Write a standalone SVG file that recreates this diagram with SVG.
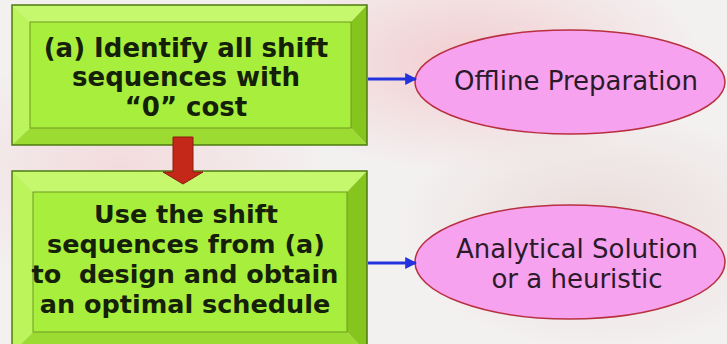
<svg xmlns="http://www.w3.org/2000/svg" width="727" height="344" viewBox="0 0 727 344">
<defs>
<radialGradient id="bg1" cx="0.5" cy="0.5" r="0.5"><stop offset="0" stop-color="#f2c4c8" stop-opacity="0.8"/><stop offset="1" stop-color="#f2c4c8" stop-opacity="0"/></radialGradient>
<radialGradient id="bg2" cx="0.5" cy="0.5" r="0.5"><stop offset="0" stop-color="#e8d8d6" stop-opacity="0.9"/><stop offset="1" stop-color="#e8d8d6" stop-opacity="0"/></radialGradient>
<marker id="blueHead" viewBox="0 0 10 10" refX="9" refY="5" markerWidth="4" markerHeight="4" orient="auto"><path d="M0,0 L10,5 L0,10 z" fill="#2233dd"/></marker>
<style>
.face{fill:#a8ee3c}
.btop{fill:#c6f86e}
.bleft{fill:#bcf45c}
.bright{fill:#86c41e}
.bbot{fill:#9cdc32}
.frame{fill:none;stroke:#4e7a10;stroke-width:1.5}
.inner{fill:none;stroke:#6e9a1e;stroke-width:1}
.btxt{font-family:"DejaVu Sans",Verdana,sans-serif;font-weight:bold;font-size:26px;fill:#142008;text-anchor:middle}
.ell{fill:#f7a2ee;stroke:#b83040;stroke-width:1.5}
.etxt{font-family:"DejaVu Sans",Verdana,sans-serif;font-size:26px;fill:#2a1a2a;text-anchor:middle}
.blue{stroke:#2233dd;stroke-width:3;fill:none;marker-end:url(#blueHead)}
</style>
</defs>
<rect width="727" height="344" fill="#f3f0f0"/>
<ellipse cx="470" cy="60" rx="230" ry="110" fill="url(#bg1)"/>
<ellipse cx="120" cy="170" rx="200" ry="120" fill="url(#bg1)" opacity="0.6"/>
<ellipse cx="600" cy="230" rx="200" ry="120" fill="url(#bg2)"/>
<g id="box1">
<polygon class="btop" points="12,5 367,5 351,22 30,22"/>
<polygon class="bleft" points="12,5 30,22 30,128 12,145"/>
<polygon class="bright" points="367,5 367,145 351,128 351,22"/>
<polygon class="bbot" points="12,145 30,128 351,128 367,145"/>
<rect class="face" x="30" y="22" width="321" height="106"/>
<rect class="inner" x="30" y="22" width="321" height="106"/>
<rect class="frame" x="12" y="5" width="355" height="140"/>
<text class="btxt" x="186" y="57">(a) Identify all shift</text>
<text class="btxt" x="186" y="86">sequences with</text>
<text class="btxt" x="186" y="116">“0” cost</text>
</g>
<g id="box2">
<polygon class="btop" points="12,171 367,171 347,192 33,192"/>
<polygon class="bleft" points="12,171 33,192 33,332 12,353"/>
<polygon class="bright" points="367,171 367,353 347,332 347,192"/>
<polygon class="bbot" points="12,353 33,332 347,332 367,353"/>
<rect class="face" x="33" y="192" width="314" height="140"/>
<rect class="inner" x="33" y="192" width="314" height="140"/>
<rect class="frame" x="12" y="171" width="355" height="182"/>
<g style="font-size:25.5px">
<text class="btxt" x="186" y="223" style="font-size:25.5px">Use the shift</text>
<text class="btxt" x="186" y="253" style="font-size:25.5px">sequences from (a)</text>
<text class="btxt" x="185" y="283" style="font-size:25.5px" xml:space="preserve">to  design and obtain</text>
<text class="btxt" x="185" y="313" style="font-size:25.5px">an optimal schedule</text>
</g>
</g>
<g id="offline">
<ellipse class="ell" cx="570" cy="82" rx="155" ry="52"/>
<text class="etxt" x="576" y="90">Offline Preparation</text>
</g>
<g id="analytical">
<ellipse class="ell" cx="570" cy="262" rx="155" ry="57"/>
<text class="etxt" x="577" y="258">Analytical Solution</text>
<text class="etxt" x="577" y="288">or a heuristic</text>
</g>
<g id="connectors">
<path d="M173,137 L193,137 L193,172 L203,172 L183,184 L163,172 L173,172 Z" fill="#c42818" stroke="#8a1a10" stroke-width="1"/>
<line class="blue" x1="368" y1="79" x2="416" y2="79"/>
<line class="blue" x1="368" y1="263" x2="416" y2="263"/>
</g>
</svg>
